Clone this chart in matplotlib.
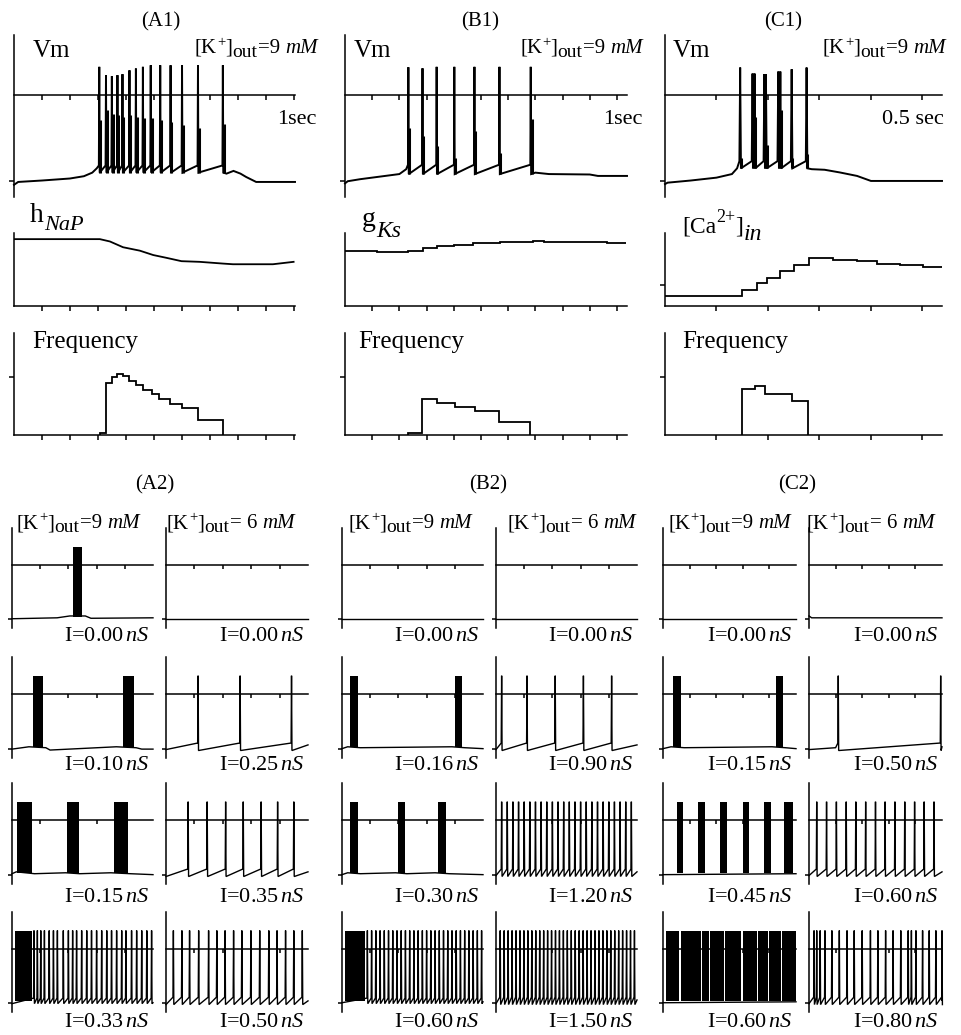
import numpy as np
import matplotlib.pyplot as plt

plt.rcParams['font.family'] = ['Liberation Serif', 'DejaVu Serif']
plt.rcParams['mathtext.fontset'] = 'custom'
plt.rcParams['mathtext.rm'] = 'Liberation Serif'
plt.rcParams['mathtext.it'] = 'Liberation Serif:italic'
plt.rcParams['axes.linewidth'] = 1.1

W, H = 962, 1035

# ---------------- top row: membrane potential (mV, s) ----------------
a1_spk = [0.305, 0.329, 0.350, 0.370, 0.388, 0.413, 0.436, 0.461, 0.489, 0.523, 0.560, 0.601, 0.658, 0.747]
a1_peak = [19.8, 14.0, 13.3, 14.0, 14.7, 17.4, 18.6, 19.8, 20.9, 20.9, 20.9, 20.9, 20.9, 20.9]
a1_sh = [-17, -10.5, -12.8, -14, -15, -14, -15, -16, -16, -17, -18.5, -21, -23, -20]
a1_rest = [(0, -62.5), (0.015, -60.5), (0.1, -59.5), (0.2, -58.1), (0.25, -56.5), (0.28, -54), (0.296, -51),
           (0.76, -54.7), (0.785, -52.8), (0.81, -54.7), (0.83, -57), (0.866, -60.5), (1.005, -60.5)]

b1_spk = [0.233, 0.285, 0.337, 0.402, 0.476, 0.568, 0.683]
b1_peak = [19.5, 18.8, 19.8, 19.8, 19.8, 19.8, 19.8]
b1_sh = [-22.6, -28.4, -35.3, -43.5, -24.9, -40, -16.7]
b1_rest = [(0, -61.5), (0.01, -60), (0.055, -58.6), (0.2, -55), (0.225, -51.6),
           (0.70, -54), (0.75, -55), (0.9, -55.3), (0.93, -56.3), (1.037, -56.3)]

c1_spk = [0.146, 0.170, 0.174, 0.193, 0.196, 0.220, 0.224, 0.246, 0.275]
c1_peak = [19.3, 15.1, 15.1, 14.7, 14.7, 16.5, 16.5, 18.1, 19.3]
c1_sh = [-44, -15, -15, -35, -35, -10, -10, -44, -41]
c1_rest = [(0, -62), (0.005, -61), (0.05, -59.5), (0.1, -57.5), (0.13, -55), (0.14, -51),
           (0.285, -51.6), (0.31, -52), (0.34, -53.9), (0.373, -56.3), (0.40, -59.8), (0.538, -59.8)]

# ---------------- second row: slow variables (normalised) ----------------
hnap_t = [0, 0.307, 0.343, 0.39, 0.45, 0.498, 0.545, 0.599, 0.664, 0.748, 0.783, 0.926, 1.0]
hnap_v = [0.916, 0.916, 0.884, 0.805, 0.758, 0.698, 0.66, 0.614, 0.605, 0.581, 0.572, 0.572, 0.605]

gks_edges = [0, 0.117, 0.233, 0.288, 0.337, 0.40, 0.472, 0.57, 0.693, 0.73, 0.963, 1.035]
gks_vals = [0.759, 0.736, 0.759, 0.795, 0.818, 0.84, 0.864, 0.873, 0.895, 0.877, 0.864]

ca_edges = [0, 0.149, 0.178, 0.198, 0.224, 0.25, 0.279, 0.327, 0.373, 0.412, 0.457, 0.502, 0.538]
ca_vals = [0.143, 0.224, 0.31, 0.39, 0.476, 0.557, 0.652, 0.629, 0.61, 0.581, 0.562, 0.538]

# ---------------- third row: instantaneous frequency (Hz) ----------------
fa_edges = [0.307, 0.329, 0.349, 0.367, 0.39, 0.412, 0.438, 0.462, 0.492, 0.519, 0.557, 0.602, 0.658, 0.748]
fa_vals = [1.5, 45, 50, 53, 51, 47, 43, 39, 35, 31, 27, 23.5, 13]
fb_edges = [0.233, 0.282, 0.337, 0.405, 0.479, 0.568, 0.679]
fb_vals = [1.4, 30.9, 28, 24.3, 20.6, 10.9]
fc_edges = [0.149, 0.175, 0.194, 0.246, 0.277]
fc_vals = [39.8, 42.7, 35.5, 29.1]

# ---------------- bottom grid: (knots, spikes, bursts) per cell ----------------
cell_labels = [
    ['0.00', '0.10', '0.15', '0.33'], ['0.00', '0.25', '0.35', '0.50'],
    ['0.00', '0.16', '0.30', '0.60'], ['0.00', '0.90', '1.20', '1.50'],
    ['0.00', '0.15', '0.45', '0.60'], ['0.00', '0.50', '0.60', '0.80'],
]

cells = [
    # A2, 9 mM
    [dict(rest=[(0, -58), (1.6, -57), (2.05, -55), (2.6, -55), (2.8, -57.5), (5, -57)], spk=[], bursts=[(2.17, 2.49)]),
     dict(rest=[(0, -58.5), (0.6, -56), (1.2, -57), (1.35, -59.5), (3.7, -56), (4.4, -57), (4.6, -58.5), (5, -58.5)],
          spk=[], bursts=[(0.75, 1.1), (3.93, 4.32)]),
     dict(rest=[(0, -57), (0.15, -55), (0.8, -57), (1.9, -56), (2.4, -57), (3.5, -56), (4.2, -57), (5, -58)],
          spk=[], bursts=[(0.18, 0.71), (1.96, 2.36), (3.61, 4.1)]),
     dict(rest=[(0, -59), (5, -58)],
          spk=[0.78, 0.9, 1.02, 1.15, 1.32, 1.47, 1.61, 1.82, 2.0, 2.15, 2.29, 2.47, 2.65, 2.82, 3.0, 3.18,
               3.36, 3.53, 3.71, 3.89, 4.04, 4.24, 4.42, 4.6, 4.78, 4.95],
          bursts=[(0.11, 0.71)])],
    # A2, 6 mM
    [dict(rest=[(0, -58), (5, -58)], spk=[], bursts=[]),
     dict(rest=[(0, -59), (5, -54)], spk=[1.13, 2.61, 4.42], bursts=[]),
     dict(rest=[(0, -60), (5, -55)], spk=[0.78, 1.45, 2.1, 2.72, 3.35, 3.93, 4.5], bursts=[]),
     dict(rest=[(0, -60), (5, -56)],
          spk=[0.26, 0.56, 0.83, 1.15, 1.5, 1.79, 2.08, 2.38, 2.67, 2.99, 3.3, 3.62, 3.91, 4.21, 4.5, 4.8],
          bursts=[])],
    # B2, 9 mM
    [dict(rest=[(0, -58), (5, -58)], spk=[], bursts=[]),
     dict(rest=[(0, -58), (0.2, -56), (0.65, -57), (3.9, -56), (4.35, -57), (5, -58)], spk=[],
          bursts=[(0.28, 0.57), (4.0, 4.26)]),
     dict(rest=[(0, -58), (0.2, -56), (0.65, -57), (1.9, -56), (2.3, -57), (3.3, -56), (3.8, -57), (5, -58)], spk=[],
          bursts=[(0.28, 0.57), (1.99, 2.23), (3.4, 3.69)]),
     dict(rest=[(0, -58), (5, -57)],
          spk=[0.9, 1.05, 1.2, 1.35, 1.5, 1.65, 1.8, 1.95, 2.1, 2.25, 2.4, 2.55, 2.7, 2.85, 3.0, 3.15, 3.3,
               3.45, 3.6, 3.75, 3.9, 4.05, 4.2, 4.35, 4.5, 4.65, 4.8, 4.95],
          bursts=[(0.1, 0.82)])],
    # B2, 6 mM
    [dict(rest=[(0, -58), (5, -58)], spk=[], bursts=[]),
     dict(rest=[(0, -59), (5, -54)], spk=[0.2, 1.1, 2.1, 3.1, 4.1], bursts=[]),
     dict(rest=[(0, -59), (5, -55)],
          spk=[0.2, 0.4, 0.6, 0.8, 1.0, 1.2, 1.4, 1.6, 1.8, 2.0, 2.2, 2.4, 2.6, 2.8, 3.0, 3.2, 3.4, 3.6, 3.8,
               4.0, 4.2, 4.4, 4.6, 4.8],
          bursts=[]),
     dict(rest=[(0, -59), (5, -55)],
          spk=[0.15, 0.29, 0.43, 0.57, 0.71, 0.85, 0.99, 1.13, 1.27, 1.41, 1.55, 1.69, 1.83, 1.97, 2.11, 2.25,
               2.39, 2.53, 2.67, 2.81, 2.95, 3.09, 3.23, 3.37, 3.51, 3.65, 3.79, 3.93, 4.07, 4.21, 4.35, 4.49,
               4.63, 4.77, 4.91],
          bursts=[])],
    # C2, 9 mM
    [dict(rest=[(0, -58), (5, -58)], spk=[], bursts=[]),
     dict(rest=[(0, -58), (0.3, -56), (0.8, -57), (4.1, -56), (4.6, -57), (5, -58)], spk=[],
          bursts=[(0.38, 0.68), (4.24, 4.5)]),
     dict(rest=[(0, -58), (5, -57)], spk=[],
          bursts=[(0.53, 0.76), (1.33, 1.59), (2.16, 2.42), (3.0, 3.22), (3.8, 4.05), (4.55, 4.9)]),
     dict(rest=[(0, -58), (5, -57)], spk=[],
          bursts=[(0.1, 0.62), (0.66, 1.42), (1.46, 1.74), (1.78, 2.3), (2.34, 2.95), (2.99, 3.52),
                  (3.56, 3.95), (3.99, 4.44), (4.48, 5.0)])],
    # C2, 6 mM
    [dict(rest=[(0, -55), (0.1, -57), (5, -57)], spk=[], bursts=[]),
     dict(rest=[(0, -59), (1.0, -57), (5, -56)], spk=[1.1, 4.95], bursts=[]),
     dict(rest=[(0, -59), (5, -55)],
          spk=[0.29, 0.66, 1.03, 1.4, 1.76, 2.13, 2.5, 2.86, 3.23, 3.6, 3.97, 4.33, 4.7],
          bursts=[]),
     dict(rest=[(0, -59), (5, -56)],
          spk=[0.19, 0.29, 0.42, 0.6, 0.86, 1.14, 1.43, 1.7, 2.0, 2.31, 2.59, 2.88, 3.16, 3.45, 3.73, 3.85,
               4.02, 4.27, 4.52, 4.77, 5.0],
          bursts=[])],
]

fig = plt.figure(figsize=(W / 100, H / 100), dpi=100)
renderer = fig.canvas.get_renderer()


def px_ax(x0, y0, x1, y1):
    ax = fig.add_axes([x0 / W, 1 - y1 / H, (x1 - x0) / W, (y1 - y0) / H])
    ax.patch.set_alpha(0)
    return ax


def style(ax, xlim, ylim, xticks, yticks, zero=None, tl=3.5):
    ax.set_xlim(*xlim)
    ax.set_ylim(*ylim)
    ax.spines['top'].set_visible(False)
    ax.spines['right'].set_visible(False)
    if zero is not None:
        ax.spines['bottom'].set_position(('data', zero))
    ax.set_xticks(xticks)
    ax.set_yticks(yticks)
    ax.tick_params(length=tl, width=1.1, direction='out', labelbottom=False, labelleft=False)


def draw_trace(ax, rest, spk, peak, pre, ahp, d, lw):
    n = len(spk)
    peak = np.broadcast_to(peak, n)
    pts = list(rest)
    for i, t in enumerate(spk):
        pts += [(t - d, pre), (t, peak[i]), (t + d, ahp)]
    pts.sort()
    ax.plot([p[0] for p in pts], [p[1] for p in pts], color='k', lw=lw, clip_on=False,
            solid_joinstyle='miter')


def ftext(x, y, s, size, ha='left', va='baseline', **kw):
    return fig.text(x / W, 1 - y / H, s, fontsize=size, ha=ha, va=va, **kw)


def rich(x, y, pieces):
    # pieces: (text, size, baseline shift px, style, gap px after)
    for s, size, dy, st, gap in pieces:
        t = ftext(x, y + dy, s, size, style=st)
        x += t.get_window_extent(renderer=renderer).width + gap


def k_label(x, y, conc):
    rich(x, y, [('[K', 15, 0, 'normal', 0), ('+', 10.5, -7, 'normal', 0), (']', 15, 0, 'normal', 0),
                ('out', 14, 4, 'normal', 1), (conc, 15, 0, 'normal', 5), ('mM', 15, 0, 'italic', 0)])


# ---- top columns ----
top_cols = [
    dict(x0=14, x1=295, xmax=1.005, ticks=np.arange(1, 11) / 10, spk=a1_spk, peak=a1_peak, sh=a1_sh,
         rest=a1_rest, pre=-49, ahp=-54, title='(A1)', tx=161, lx=33, kx=195, sec='1sec', secx=277),
    dict(x0=345, x1=627, xmax=1.037, ticks=np.arange(1, 11) / 10, spk=b1_spk, peak=b1_peak, sh=b1_sh,
         rest=b1_rest, pre=-48.5, ahp=-55, title='(B1)', tx=480, lx=354, kx=520, sec='1sec', secx=603),
    dict(x0=665, x1=942, xmax=0.538, ticks=np.arange(1, 6) / 10, spk=c1_spk, peak=c1_peak, sh=c1_sh,
         rest=c1_rest, pre=-46, ahp=-51, title='(C1)', tx=783, lx=673, kx=823, sec='0.5 sec', secx=882),
]

for c in top_cols:
    ax = px_ax(c['x0'], 35, c['x1'], 197)
    style(ax, (0, c['xmax']), (-71, 42), c['ticks'], [-60], zero=0)
    draw_trace(ax, c['rest'], c['spk'], c['peak'], c['pre'], c['ahp'], 0.0015, 1.4)
    ax.vlines(np.array(c['spk']) + 0.003 * c['xmax'], c['ahp'], c['sh'], color='k', lw=2.2)
    ftext(c['tx'], 26, c['title'], 15, ha='center')
    ftext(c['lx'], 57, 'Vm', 18)
    k_label(c['kx'], 53, '=9')
    ftext(c['secx'], 124, c['sec'], 16)

# second row
ax = px_ax(14, 233, 295, 306)
style(ax, (0, 1.005), (0, 1), np.arange(1, 11) / 10, [])
ax.plot(hnap_t, hnap_v, color='k', lw=1.3)
rich(30, 222, [('h', 20, 0, 'normal', 0), ('NaP', 16, 8, 'italic', 0)])

ax = px_ax(345, 233, 627, 306)
style(ax, (0, 1.037), (0, 1), np.arange(1, 11) / 10, [])
ax.stairs(gks_vals, gks_edges, color='k', lw=1.3, baseline=None)
rich(362, 226, [('g', 20, 0, 'normal', 0), ('Ks', 17, 11, 'italic', 0)])

ax = px_ax(665, 233, 942, 306)
style(ax, (0, 0.538), (0, 1), np.arange(1, 6) / 10, [0.286])
ax.stairs(ca_vals, ca_edges, color='k', lw=1.3, baseline=None)
rich(682, 232, [('[Ca', 17, 0, 'normal', 0), ('2+', 13, -10, 'normal', 0), (']', 17, 0, 'normal', 1),
                ('in', 17, 8, 'italic', 0)])

# third row: frequency
for (x0, x1, xmax, ticks, ed, vals, lx) in [
        (14, 295, 1.005, np.arange(1, 11) / 10, fa_edges, fa_vals, 32),
        (345, 627, 1.037, np.arange(1, 11) / 10, fb_edges, fb_vals, 358),
        (665, 942, 0.538, np.arange(1, 6) / 10, fc_edges, fc_vals, 682)]:
    ax = px_ax(x0, 333, x1, 435)
    style(ax, (0, xmax), (0, 88), ticks, [50])
    ax.stairs(vals, ed, color='k', lw=1.3, baseline=0)
    ftext(lx, 348, 'Frequency', 18)

# ---- bottom grid ----
col_x = [(12, 153), (166, 308), (342, 483), (496, 637), (663, 796), (809, 942)]
row_y = [(528, 628), (657, 758), (783, 884), (912, 1012)]
row_lab = [641, 770, 902, 1027]
k_left = [17, 167, 349, 508, 668, 807]

for ci, (x0, x1) in enumerate(col_x):
    for ri, (y0, y1) in enumerate(row_y):
        cell = cells[ci][ri]
        ax = px_ax(x0, y0, x1, y1)
        style(ax, (0, 5), (-68, 40), [1, 2, 3, 4], [-58], zero=0, tl=3)
        pre, ahp = (-52, -60) if ci % 2 else (-53, -59)
        draw_trace(ax, cell['rest'], cell['spk'], 20, pre, ahp, 0.015, 1.0)
        for t0, t1 in cell['bursts']:
            ax.fill_between([t0, t1], -56, 20, color='k', lw=0)
        ftext(x1 - 4, row_lab[ri], 'I=' + cell_labels[ci][ri] + r'$\,nS$', 16, ha='right')
    k_label(k_left[ci], 528, '=9' if ci % 2 == 0 else '= 6')

for s, x in [('(A2)', 155), ('(B2)', 488), ('(C2)', 797)]:
    ftext(x, 489, s, 15, ha='center')

fig.savefig('out.png', dpi=100)
